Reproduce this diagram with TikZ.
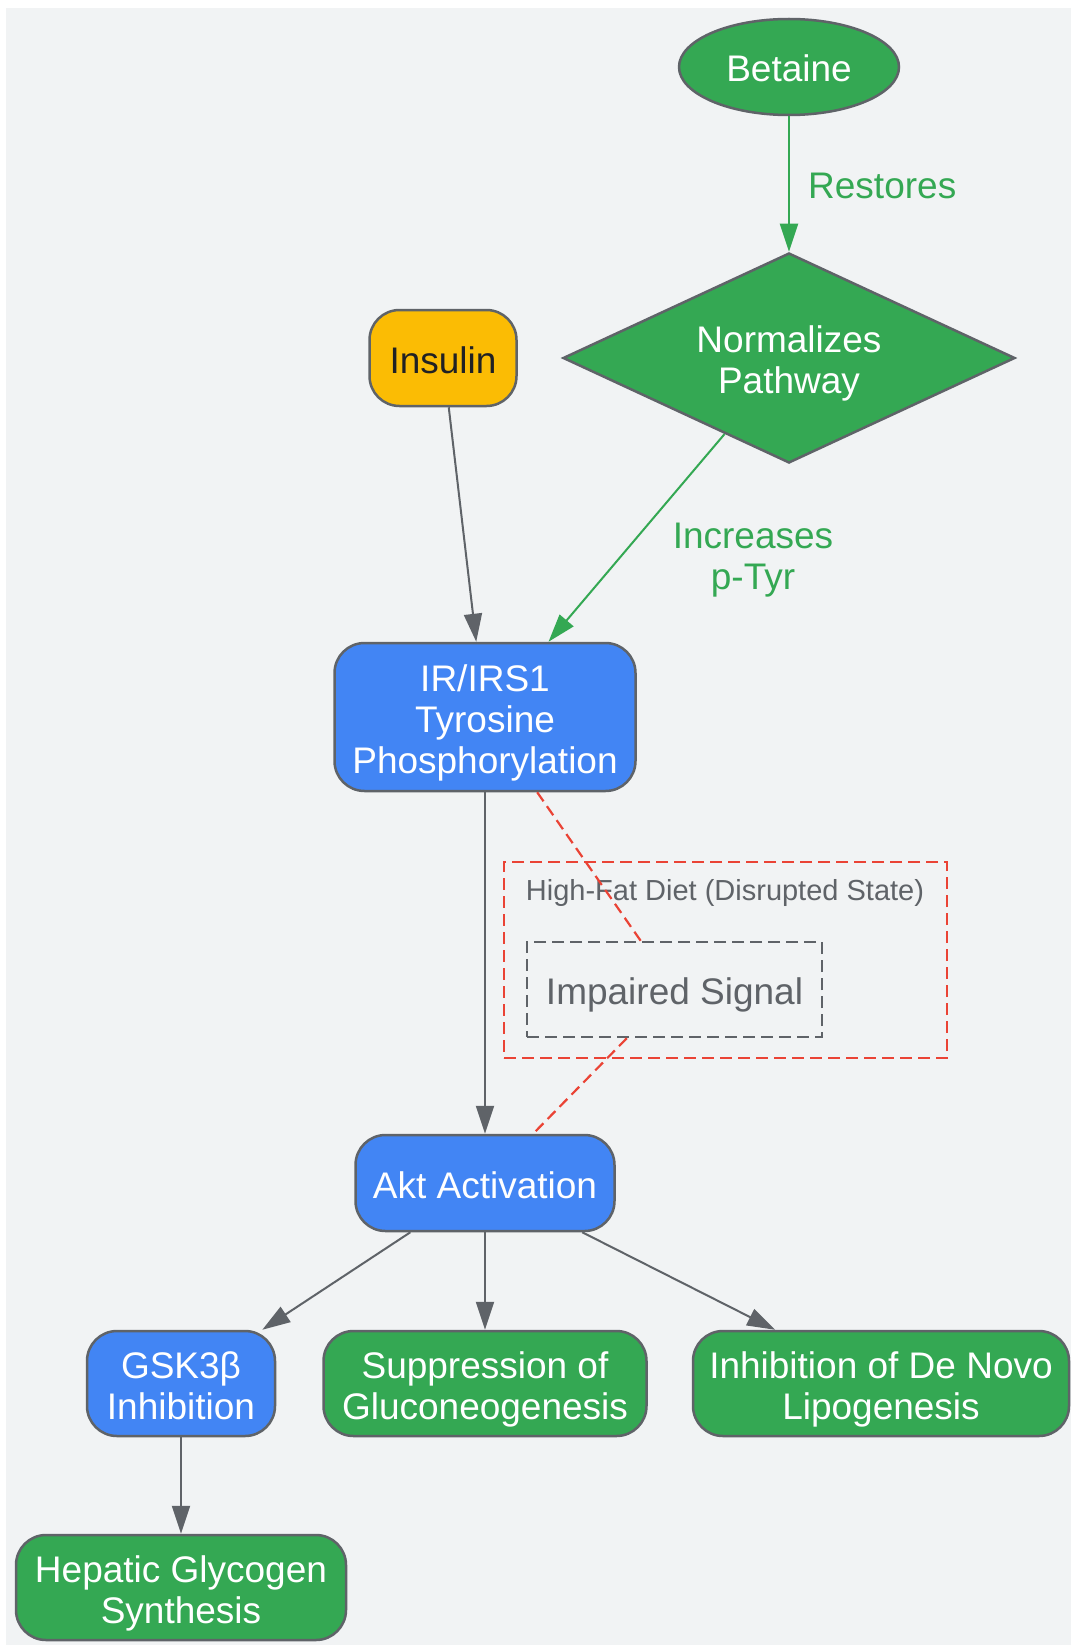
\documentclass[tikz,border=0pt]{standalone}
\usepackage{fontspec}
\setmainfont{Liberation Sans}
\usetikzlibrary{shapes.geometric,arrows.meta}
\definecolor{gGreen}{RGB}{52,168,83}
\definecolor{gBlue}{RGB}{66,133,244}
\definecolor{gYellow}{RGB}{251,188,4}
\definecolor{gStroke}{RGB}{95,99,104}
\definecolor{gRed}{RGB}{234,67,53}
\definecolor{gBg}{RGB}{241,243,244}
\definecolor{gDark}{RGB}{32,33,36}
\newcommand\myTop{\rule{0pt}{38.5pt}}
\newcommand\myBot{\rule[-8.5pt]{0pt}{8.5pt}}
\begin{document}
\begin{tikzpicture}[x=1pt,y=-1pt,
  base/.style={draw=gStroke, line width=2.5pt, font=\fontsize{37}{41}\selectfont, align=center, inner sep=0pt, text=white},
  rbox/.style={base, rectangle, rounded corners=30pt},
  conn/.style={line width=2pt, draw=gStroke, -{Triangle[length=28pt,width=18pt]}},
  gconn/.style={conn, draw=gGreen},
  redline/.style={draw=gRed, line width=2.2pt, dash pattern=on 11pt off 6pt},
  elabel/.style={font=\fontsize{37}{41}\selectfont, text=gGreen, align=center, inner sep=0pt}
]
\useasboundingbox (0,0) rectangle (1071,1645);
\fill[gBg] (6,8) rectangle (1071,1645);

% cluster
\node[draw=gRed, line width=2.5pt, dash pattern=on 12pt off 6pt, minimum width=443pt, minimum height=196pt, inner sep=0pt] (hfd) at (725.5,960) {};
\node[font=\fontsize{29}{34}\selectfont, text=gStroke, inner sep=0pt] (hfdlab) at (725,893) {High-Fat Diet (Disrupted State)};

% nodes
\node[base, ellipse, fill=gGreen, minimum width=220pt, minimum height=96pt] (bet) at (789,67) {\myTop Betaine\myBot};
\node[base, diamond, aspect=2.15, fill=gGreen, minimum width=452pt, minimum height=210pt] (dia) at (789,358) {\myTop Normalizes\\Pathway\myBot};
\node[rbox, fill=gYellow, text=gDark, minimum width=147pt, minimum height=96pt] (ins) at (443,358) {\myTop Insulin\myBot};
\node[rbox, fill=gBlue, minimum width=301pt, minimum height=148pt] (ir) at (485,717) {\myTop IR/IRS1\\Tyrosine\\Phosphorylation\myBot};
\node[base, rectangle, draw=gStroke, line width=2.5pt, dash pattern=on 12pt off 6pt, text=gStroke, minimum width=295pt, minimum height=95pt] (imp) at (674.5,989.5) {\myTop Impaired Signal\myBot};
\node[rbox, fill=gBlue, minimum width=259pt, minimum height=96pt] (akt) at (485,1183) {\myTop Akt Activation\myBot};
\node[rbox, fill=gBlue, minimum width=188pt, minimum height=105pt] (gsk) at (181,1383.5) {\myTop GSK3β\\Inhibition\myBot};
\node[rbox, fill=gGreen, minimum width=323pt, minimum height=105pt] (sup) at (485,1383.5) {\myTop Suppression of\\Gluconeogenesis\myBot};
\node[rbox, fill=gGreen, minimum width=376pt, minimum height=105pt] (inh) at (881,1383.5) {\myTop Inhibition of De Novo\\Lipogenesis\myBot};
\node[rbox, fill=gGreen, minimum width=330pt, minimum height=105pt] (hep) at (181,1587.5) {\myTop Hepatic Glycogen\\Synthesis\myBot};

% edges
\draw[gconn] (bet) -- (dia);
\node[elabel, anchor=west] (lres) at (808,186) {Restores};
\draw[conn] (ins) -- (ir);
\draw[gconn] (dia) -- (ir);
\node[elabel] (linc) at (753,560) {Increases\\p-Tyr};
\draw[conn] (ir) -- (akt);
\draw[redline] (ir) -- (imp);
\draw[redline] (imp) -- (akt);
\draw[conn] (akt) -- (gsk);
\draw[conn] (akt) -- (sup);
\draw[conn] (akt) -- (inh);
\draw[conn] (gsk) -- (hep);
\end{tikzpicture}
\end{document}
